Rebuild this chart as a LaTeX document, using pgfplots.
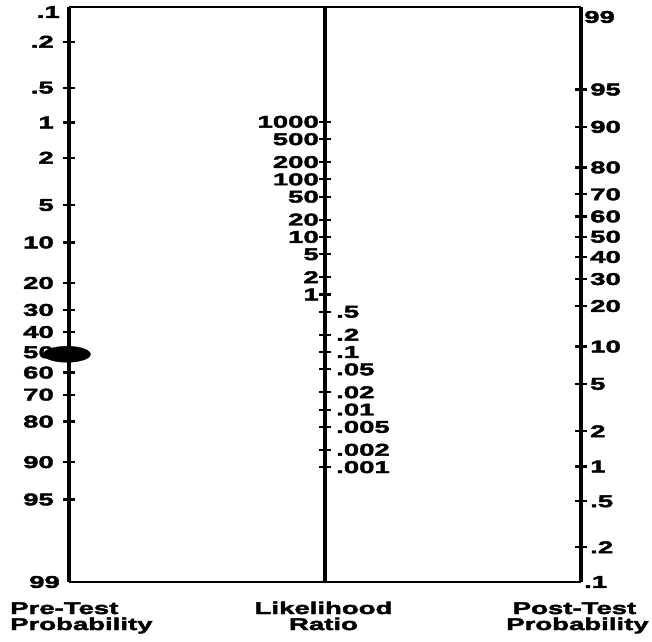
\documentclass[border=0pt]{standalone}
\usepackage{fontspec}
\setmainfont{Liberation Sans}[FakeStretch=1.62, BoldFeatures={FakeBold=2.5}]
\usepackage{pgfplots}
\pgfplotsset{compat=1.18}
\begin{document}
\begin{tikzpicture}[x=1pt,y=1pt]
\pgfplotsset{
  nomo/.style={
    scale only axis, width=512pt, height=575pt,
    at={(69pt,59pt)}, anchor=south west,
    xmin=0, xmax=1, ymin=-6.9068, ymax=4.5951, y dir=reverse,
    xtick=\empty,
    tick align=center, major tick length=12pt,
    tick style={line width=2.2pt, black},
    tick label style={font=\fontsize{17}{17}\selectfont\bfseries, inner sep=0pt},
    clip=false,
  }
}
% Pre-test probability (left axis) and frame
\begin{axis}[nomo, separate axis lines,
  x axis line style={line width=2pt}, y axis line style={line width=3.5pt},
  ytick pos=left,
  ytick={-6.2126,-5.2933,-4.5951,-3.8918,-2.9444,-2.1972,-1.3863,-0.8473,-0.4055,0,0.4055,0.8473,1.3863,2.1972,2.9444},
  yticklabels={.2,.5,1,2,5,10,20,30,40,50,60,70,80,90,95},
  extra y ticks={-6.9068,4.5951},
  extra y tick labels={\raisebox{-5pt}[\height][\depth]{.1},99},
  extra y tick style={major tick length=0pt},
  yticklabel style={xshift=-9pt}]
\addplot[only marks, mark=*, mark size=8pt, mark options={xscale=2.94, fill=black}] coordinates {(-0.004,0.04)};
\end{axis}
% Post-test probability (right axis)
\begin{axis}[nomo, axis x line=none, axis y line*=right,
  y axis line style={line width=3.5pt},
  ytick={-5.2561,-4.5089,-3.6980,-3.1590,-2.7172,-2.3117,-1.9062,-1.4644,-0.9254,-0.1145,0.6327,1.5801,2.2834,2.9816,3.9009},
  yticklabels={95,90,80,70,60,50,40,30,20,10,5,2,1,.5,.2},
  extra y ticks={-6.9068,4.5951},
  extra y tick labels={\raisebox{-10pt}[\height][\depth]{99},.1},
  extra y tick style={major tick length=0pt},
  yticklabel style={xshift=3pt}]
\end{axis}
% Likelihood ratio >= 1 (labels left of middle axis)
\begin{axis}[nomo, width=100pt, at={(325pt,59pt)}, anchor=south west,
  axis x line=none, axis y line*=left,
  y axis line style={line width=3.5pt},
  ytick={-4.6098,-4.2632,-3.8051,-3.4585,-3.1119,-2.6538,-2.3072,-1.9606,-1.5025,-1.1559},
  yticklabels={1000,500,200,100,50,20,10,5,2,1},
  yticklabel style={xshift=0pt}]
\end{axis}
% Likelihood ratio < 1 (labels right of middle axis)
\begin{axis}[nomo, width=100pt, at={(325pt,59pt)}, anchor=south east,
  axis x line=none, axis y line*=right,
  y axis line style={draw=none},
  ytick={-0.8093,-0.3512,-0.0046,0.3420,0.8001,1.1467,1.4933,1.9514,2.2980},
  yticklabels={.5,.2,.1,.05,.02,.01,.005,.002,.001},
  yticklabel style={xshift=5pt}]
\end{axis}
\begin{scope}[font=\fontsize{17}{17}\selectfont\bfseries, inner sep=0pt]
\node[anchor=base west] at (10,27) {Pre-Test};
\node[anchor=base west] at (10,11) {Probability};
\node[anchor=base] at (323.5,27) {Likelihood};
\node[anchor=base] at (323.5,11) {Ratio};
\node[anchor=base] at (574.5,27) {Post-Test};
\node[anchor=base] at (577.5,11) {Probability};
\end{scope}
\pgfresetboundingbox
\path[use as bounding box] (0,0) rectangle (652,641);
\end{tikzpicture}
\end{document}
